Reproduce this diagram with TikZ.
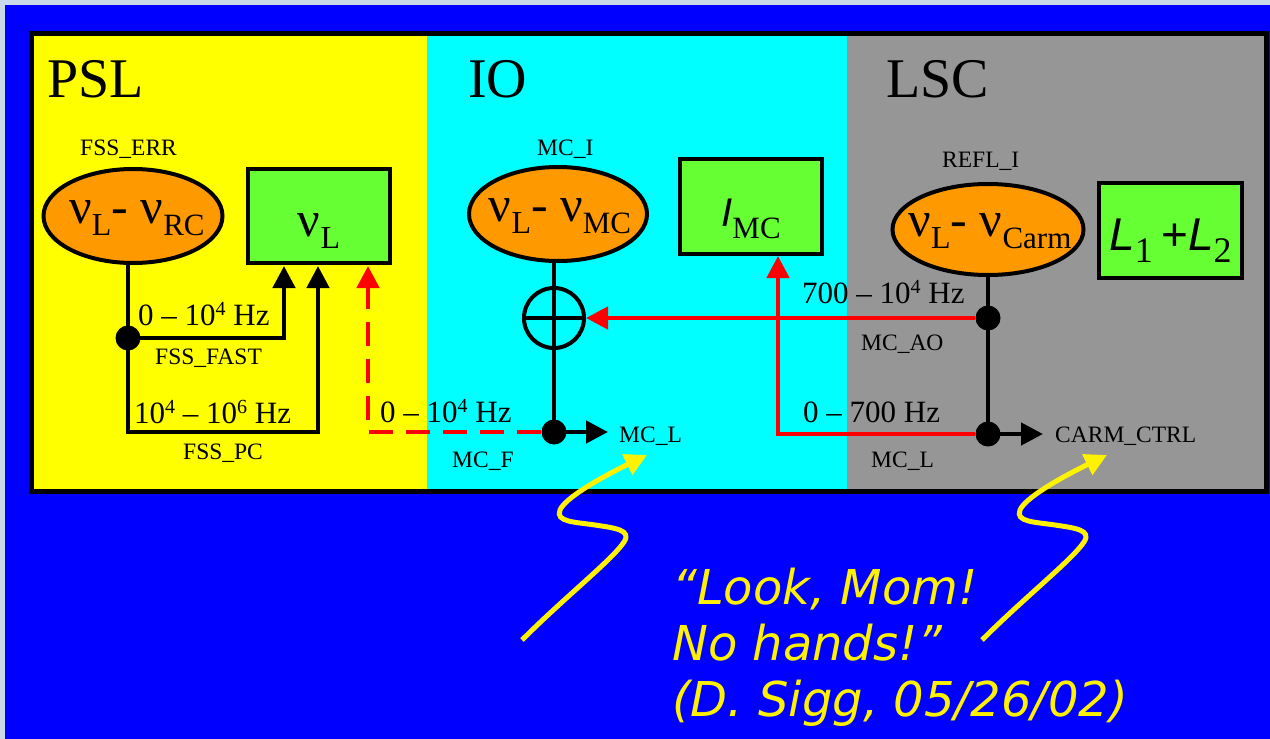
\documentclass[tikz,border=0pt]{standalone}
\usepackage{fontspec}
\setmainfont{Liberation Serif}
\newfontfamily\hvit{Liberation Sans}
\newfontfamily\qfont{DejaVu Sans}
\usetikzlibrary{arrows.meta,positioning,shapes.geometric}
\definecolor{pslyel}{RGB}{255,255,0}
\definecolor{iocyan}{RGB}{0,255,255}
\definecolor{lscgray}{RGB}{150,150,150}
\definecolor{errorange}{RGB}{255,153,0}
\definecolor{actgreen}{RGB}{102,255,51}
\definecolor{slideblue}{RGB}{0,0,255}
\definecolor{framegray}{RGB}{202,216,234}
\newcommand{\nsub}[2][32]{\raisebox{-12pt}{\fontsize{#1}{#1}\selectfont #2}}
\newcommand{\hzsup}[1]{\raisebox{10pt}{\fontsize{20}{20}\selectfont #1}}
\newcommand{\errtext}[2]{\makebox[0pt][c]{ν\nsub{L}- ν\nsub[31]{#1}\hspace*{#2}}}

\begin{document}
\begin{tikzpicture}[x=1pt,y=-1pt]
\tikzstyle{sectitle}=[font=\fontsize{56}{56}\selectfont, anchor=base west, inner sep=0pt]
\tikzstyle{siglbl}=[font=\fontsize{23.5}{24}\selectfont, anchor=base west, inner sep=0pt]
\tikzstyle{bandlbl}=[font=\fontsize{31}{31}\selectfont, anchor=base west, inner sep=0pt]
\tikzstyle{errell}=[draw, ellipse, fill=errorange, line width=4pt, inner sep=0pt,
  text height=14pt, text depth=0pt, font=\fontsize{50}{50}\selectfont]
\tikzstyle{actbox}=[draw, rectangle, fill=actgreen, line width=4pt, inner sep=0pt,
  text height=40pt, text depth=0pt, font=\fontsize{50}{50}\selectfont]
\tikzstyle{jdot}=[circle, fill=black, inner sep=0pt, minimum size=25pt]
\tikzstyle{sigline}=[line width=4.5pt]
\tikzstyle{warrow}=[sigline, -{Triangle[length=22pt, width=22pt]}]
\tikzstyle{rwarrow}=[warrow, red]
\tikzstyle{rdash}=[rwarrow, dash pattern=on 24pt off 13pt]
\tikzstyle{squig}=[line width=5pt, yellow, -{Triangle[length=22pt, width=22pt]}]
\useasboundingbox (0,0) rectangle (1270,739);
\fill[framegray] (0,0) rectangle (1270,739);
\fill[slideblue] (5,5) rectangle (1270,739);
\fill[pslyel] (31,33) rectangle (427,491);
\fill[iocyan] (427,33) rectangle (847,491);
\fill[lscgray] (847,33) rectangle (1266,491);
\draw[line width=5pt] (31,33) rectangle (1266,491);
\node[sectitle] (psl) at (47,97) {PSL};
\node[sectitle] (io) at (468,97) {IO};
\node[sectitle] (lsc) at (886,97) {LSC};
% PSL
\node[siglbl] (fsserr) at (80,155) {FSS\_ERR};
\node[errell, minimum width=179pt, minimum height=94pt] (rc) at (133,216) {\errtext{RC}{-8pt}};
\node[actbox, minimum width=142pt, minimum height=94pt] (laser) at (319,216) {ν\nsub{L}};
\node[jdot] (fss) at (128,338) {};
\coordinate (pcc) at (128,432);
\coordinate (fastin) at (284,266);
\coordinate (pcin) at (318,266);
\draw[sigline] (rc.south -| fss) -- (fss.center);
\draw[warrow] (fss.center) -| (fastin);
\draw[warrow] (fss.center) -- (pcc) -| (pcin);
\node[bandlbl] (fastband) at (138,325) {0 – 10\hzsup{4} Hz};
\node[siglbl] (fssfast) at (155,364) {FSS\_FAST};
\node[bandlbl] (pcband) at (134,423) {10\hzsup{4} – 10\hzsup{6} Hz};
\node[siglbl] (fsspc) at (183,459) {FSS\_PC};
% IO
\node[siglbl] (mci) at (537,155) {MC\_I};
\node[errell, minimum width=178pt, minimum height=94pt] (mc) at (558,214) {\errtext{MC}{-4pt}};
\node[actbox, minimum width=142pt, minimum height=95pt] (imc) at (751,206.5) {{\hvit\itshape\fontsize{40}{40}\selectfont I}\nsub[31]{MC}};
\node[circle, draw, line width=4pt, minimum size=60pt, inner sep=0pt] (sum) at (554,318) {};
\draw[sigline] (sum.north) -- (sum.south) (sum.west) -- (sum.east);
\draw[sigline] (mc.south -| sum) -- (sum.north);
\node[jdot] (mcf) at (554,432) {};
\draw[sigline] (sum.south) -- (mcf.center);
\coordinate (mclo) at (608,432);
\draw[warrow] (mcf.center) -- (mclo);
\node[siglbl] (mcl) at (619,442) {MC\_L};
\coordinate (fin) at (368,266);
\draw[rdash] (mcf) -| (fin);
\node[bandlbl] (fband) at (380,422) {0 – 10\hzsup{4} Hz};
\node[siglbl] (mcflbl) at (452,467) {MC\_F};
% LSC
\node[siglbl] (refl) at (942,167) {REFL\_I};
\node[errell, minimum width=191pt, minimum height=91pt] (carm) at (988,229.5) {\errtext{Carm}{-4pt}};
\node[actbox, minimum width=143pt, minimum height=95pt] (arms) at (1170.5,230.5)
  {{\hvit\itshape\fontsize{46}{46}\selectfont L}\nsub[36]{1}\,{\hvit\fontsize{46}{46}\selectfont +}{\hvit\itshape\fontsize{46}{46}\selectfont L}\nsub[36]{2}};
\node[jdot] (ao) at (988,318) {};
\node[jdot] (cml) at (988,434) {};
\draw[sigline] (carm.south) -- (ao.center) -- (cml.center);
\coordinate (ctrlo) at (1043,434);
\draw[warrow] (cml.center) -- (ctrlo);
\node[siglbl] (ctrl) at (1055,442) {CARM\_CTRL};
\coordinate (imcin) at (778,256);
\draw[rwarrow] (ao) -- (sum.east);
\draw[rwarrow] (cml) -| (imcin);
\node[bandlbl] (aoband) at (802,303) {700 – 10\hzsup{4} Hz};
\node[siglbl] (aolbl) at (861,350) {MC\_AO};
\node[bandlbl] (lband) at (803,422) {0 – 700 Hz};
\node[siglbl] (mcl2) at (871,467) {MC\_L};
% quote
\node[anchor=north west, inner sep=0pt, align=left, text=yellow,
  font=\qfont\itshape\fontsize{48}{56}\selectfont] (quote) at (672,568)
  {“Look, Mom!\\No hands!”\\(D. Sigg, 05/26/02)};
\coordinate (sqa) at (522,640);
\coordinate (sqat) at (647,455);
\coordinate (sqb) at (982,640);
\coordinate (sqbt) at (1107,455);
\draw[squig] (sqa) .. controls (565,597) and (612,560) .. (624,542)
  .. controls (632,530) and (615,528) .. (595,525)
  .. controls (575,522) and (555,522) .. (560,510)
  .. controls (565,498) and (600,478) .. (sqat);
\draw[squig] (sqb) .. controls (1025,597) and (1072,560) .. (1084,542)
  .. controls (1092,530) and (1075,528) .. (1055,525)
  .. controls (1035,522) and (1015,522) .. (1020,510)
  .. controls (1025,498) and (1060,478) .. (sqbt);
\end{tikzpicture}
\end{document}
